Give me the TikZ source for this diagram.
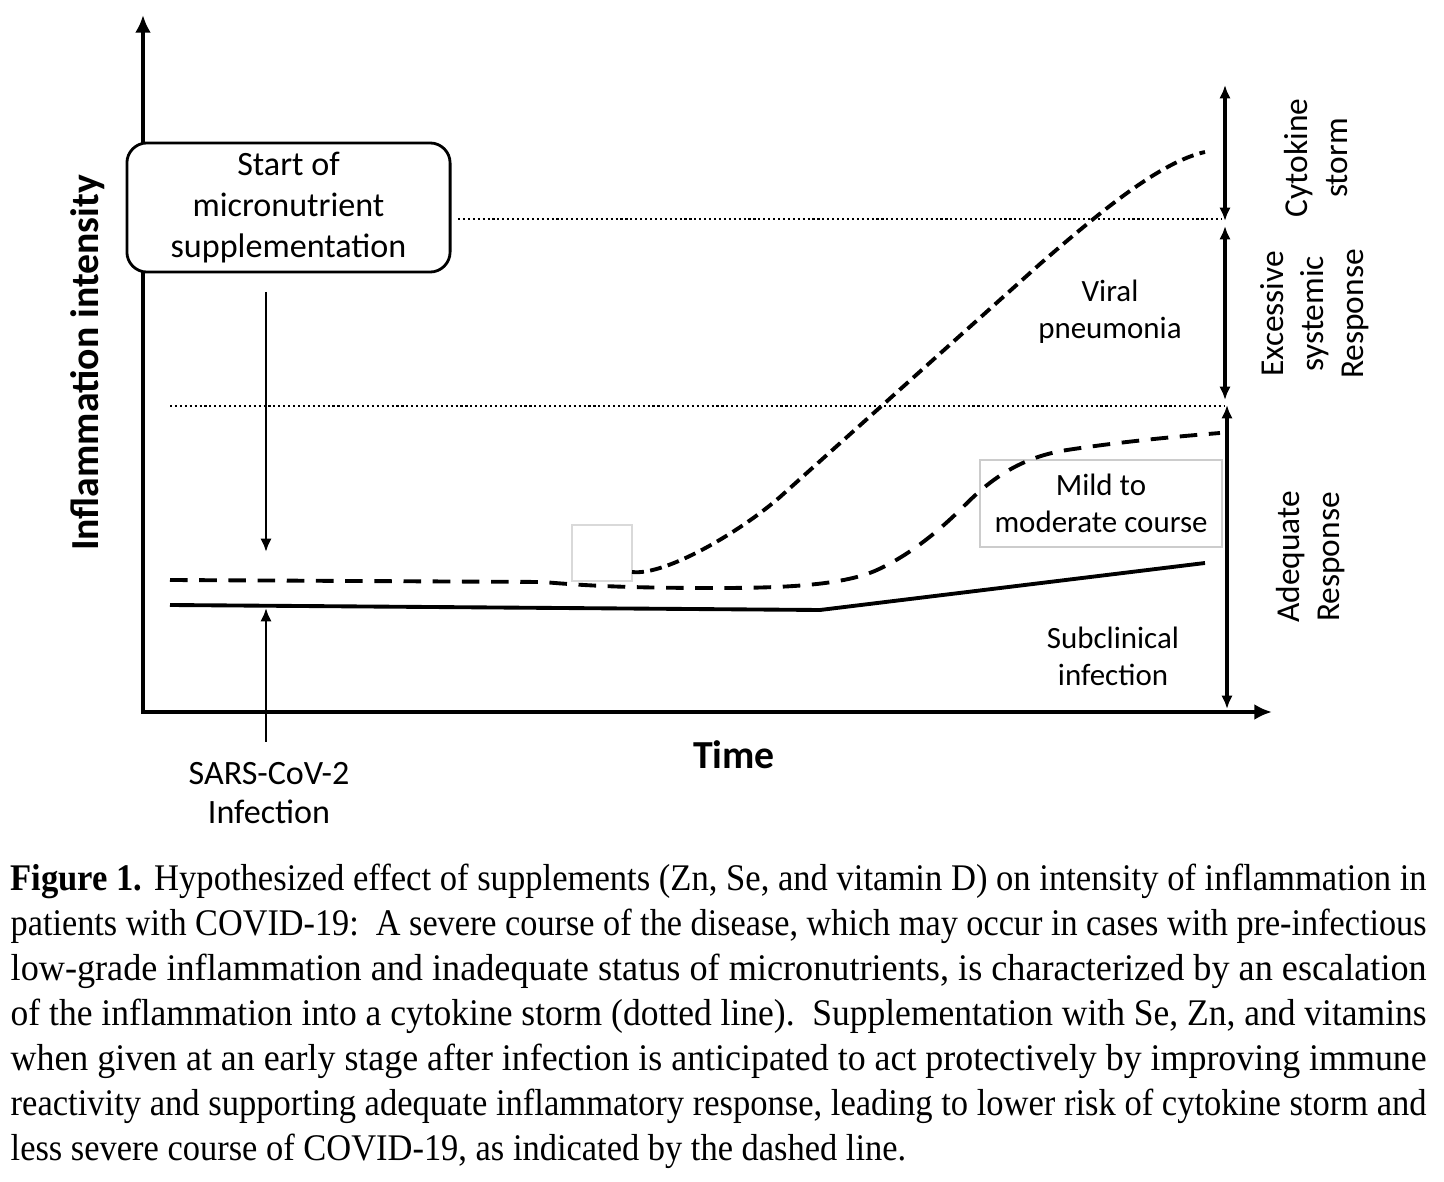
\documentclass[tikz,border=0pt]{standalone}
\usepackage{fontspec}
\setmainfont{Liberation Serif}
\newfontfamily\labelfont{Carlito}
\usetikzlibrary{arrows.meta}

\tikzset{
  axis/.style={line width=1.2pt, {Latex[length=5pt,width=4.5pt]}-{Latex[length=5pt,width=4.5pt]}},
  spanarrow/.style={line width=0.9pt, {Latex[length=3.8pt,width=3.2pt]}-{Latex[length=3.8pt,width=3.2pt]}},
  pointer/.style={line width=0.8pt, -{Latex[length=3.8pt,width=3.2pt]}},
  levelline/.style={line width=0.6pt, dash pattern=on 0.6pt off 0.8pt},
  severe/.style={line width=1.1pt, dash pattern=on 3.4pt off 1.8pt},
  mild/.style={line width=1.1pt, dash pattern=on 5pt off 3.3pt},
  lbl/.style={font=\labelfont\fontsize{8.8}{10.5}\selectfont, align=center, inner sep=0pt},
  lblbig/.style={font=\labelfont\fontsize{9.7}{11.2}\selectfont, align=center, inner sep=0pt},
  sidelbl/.style={font=\labelfont\fontsize{9.5}{11.4}\selectfont, align=center, inner sep=0pt, rotate=90},
  axislabel/.style={font=\labelfont\bfseries\fontsize{11.3}{13}\selectfont, inner sep=0pt},
  captionline/.style={font=\fontsize{10.7}{12.8}\selectfont, inner sep=0pt, anchor=base west}
}

\begin{document}
\begin{tikzpicture}[x=0.01cm, y=-0.01cm]
  \useasboundingbox (0,0) rectangle (1444,1182);

  % axes
  \coordinate (O) at (143,712);
  \coordinate (ytop) at (143,15);
  \coordinate (xend) at (1272,712);
  \draw[axis] (ytop) |- (xend);
  \node[axislabel, rotate=90] (ylab) at (88,363) {Inflammation intensity};
  \node[axislabel] (xlab) at (734,755) {Time};

  % levels
  \draw[levelline] (458,219) -- (1222,219);
  \draw[levelline] (170,406) -- (1225,406);

  % ranges on the right
  \coordinate (r0) at (1225,85);
  \coordinate (r1) at (1225,221);
  \coordinate (r2) at (1225,226);
  \coordinate (r3) at (1225,400);
  \coordinate (r4) at (1227,405);
  \coordinate (r5) at (1227,709);
  \draw[spanarrow] (r0) -- (r1);
  \draw[spanarrow] (r2) -- (r3);
  \draw[spanarrow] (r4) -- (r5);
  \node[sidelbl] (storm) at (1316,158) {Cytokine\\storm};
  \node[sidelbl] (excess) at (1315,314) {Excessive\\systemic\\Response};
  \node[sidelbl] (adequate) at (1311,557) {Adequate\\Response};

  % start of supplementation
  \node[draw, line width=0.8pt, rounded corners=2mm, fill=white, minimum width=3.23cm,
        minimum height=1.29cm, lblbig, font=\labelfont\fontsize{9.7}{11.6}\selectfont]
        (supp) at (288.5,207.5) {Start of\\micronutrient\\supplementation};
  \coordinate (suppTop) at (266,292);
  \coordinate (suppEnd) at (266,552);
  \draw[pointer] (suppTop) -- (suppEnd);

  % infection
  \node[lblbig] (sars) at (269,793) {SARS-CoV-2\\Infection};
  \coordinate (infTop) at (266,742);
  \coordinate (infEnd) at (266,608);
  \draw[pointer] (infTop) -- (infEnd);

  % course boxes and labels
  \draw[gray!30, line width=0.4pt] (572,525) rectangle (632,581);
  \node[draw=gray!40, line width=0.4pt, minimum width=2.42cm, minimum height=0.87cm,
        lbl] (mild) at (1101,503.5) {Mild to\\moderate course};
  \node[lbl] (viral) at (1110,312) {Viral\\pneumonia};
  \node[lbl] (subclin) at (1113,656) {Subclinical\\infection};

  % courses
  \draw[line width=1.1pt] (170,605) -- (820,610) -- (1205,563);
  \draw[mild] (170,580) -- (543,582)
    .. controls (600,587) and (650,588) .. (720,588)
    .. controls (790,588) and (845,584.5) .. (877,570)
    .. controls (910,555) and (940,530) .. (963,507)
    .. controls (985,485) and (1015,458) .. (1067,450)
    .. controls (1120,442) and (1170,437) .. (1220,433);
  \draw[severe] (632,572)
    .. controls (665,576) and (740,532) .. (780,497)
    -- (1040,264)
    .. controls (1100,212) and (1160,162) .. (1205,152);

  % caption
  \foreach \txt [count=\i from 0] in {%
    {\textbf{Figure 1.} Hypothesized effect of supplements (Zn, Se, and vitamin D) on intensity of inflammation in},
    {patients with COVID-19:\ \ A severe course of the disease, which may occur in cases with pre-infectious},
    {low-grade inflammation and inadequate status of micronutrients, is characterized by an escalation},
    {of the inflammation into a cytokine storm (dotted line).\ \ Supplementation with Se, Zn, and vitamins},
    {when given at an early stage after infection is anticipated to act protectively by improving immune},
    {reactivity and supporting adequate inflammatory response, leading to lower risk of cytokine storm and}}
    \node[captionline] (cap\i) at (10,{891+45*\i}) {\resizebox{14.15cm}{\height}{\txt}};
  \node[captionline] (cap6) at (10,1161) {\resizebox{8.95cm}{\height}{less severe course of COVID-19, as indicated by the dashed line.}};
\end{tikzpicture}
\end{document}
